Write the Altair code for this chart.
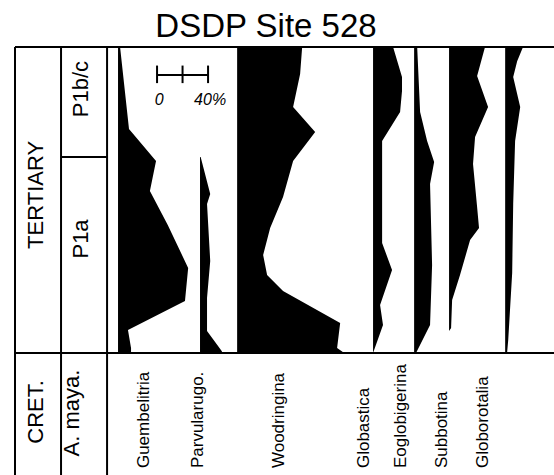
import altair as alt
import pandas as pd

TITLE = "DSDP Site 528"

# ---- data: height above K/T boundary (cm-like units) and relative abundance (%) ----
GUEM_H = [150, 109.8, 94.1, 79.4, 62.7, 41.7, 25.5, 11.3, 2.5, 0]
GUEM_P = [1.6, 8.6, 29.8, 25.0, 39.0, 55.0, 52.5, 7.8, 10.2, 10.2]

PARV_H = [96.1, 78.0, 73.0, 45.1, 27.0, 10.8, 1.0, 0]
PARV_P = [0.5, 8.0, 5.5, 8.0, 5.5, 5.5, 17.0, 17.5]

WOOD_H = [150, 136.8, 120.6, 108.3, 94.1, 76.5, 61.3, 48.0, 38.2, 30.4, 14.7, 2.5, 0]
WOOD_P = [51, 49.4, 43.9, 61.2, 43.9, 36, 25.9, 20.4, 23.5, 36, 80.8, 78.4, 84]

GLOBA_H = [150, 135.3, 128.4, 118.1, 103.9, 53.9, 40.7, 23.5, 13.7, 0]
GLOBA_P = [15.7, 22.7, 22.7, 21.2, 7.1, 7.1, 14.9, 5.5, 7.8, 0]

EOGL_H = [150, 118.1, 103.9, 93.6, 82.8, 43.1, 13.7, 0]
EOGL_P = [2.4, 4.7, 10.2, 15.7, 12.5, 14.1, 12.5, 1.5]

SUBB_H = [150, 135.8, 120.6, 105.9, 92.6, 71.6, 61.3, 55.4, 38.2, 26.0, 12.3, 10.8]
SUBB_P = [28.2, 22.0, 30.6, 20.4, 18.8, 22.0, 23.5, 16.5, 8.6, 2.4, 1.6, 0]

GROT_H = [150, 143.0, 135.3, 120.6, 103.9, 73.0, 39.2, 6.4, 0]
GROT_P = [14.0, 9.4, 6.3, 11.8, 7.8, 6.3, 5.5, 2.4, 1.5]

SPECIES = ["Guembelitria", "Parvularugo.", "Woodringina", "Globastica",
           "Eoglobigerina", "Subbotina", "Globorotalia"]
SERIES = [(GUEM_H, GUEM_P), (PARV_H, PARV_P), (WOOD_H, WOOD_P), (GLOBA_H, GLOBA_P),
          (EOGL_H, EOGL_P), (SUBB_H, SUBB_P), (GROT_H, GROT_P)]

# zones
STAGES = ["TERTIARY", "CRET."]
ZONES = ["P1b/c", "P1a", "A. maya."]
KT_BOUNDARY = 0
P1A_TOP = 96.1
SCALE_LEN = 40  # scale bar length in %

# ---- layout (in axis units) ----
COLUMN_BASE = [8.6, 72.9, 102.0, 208.6, 240.8, 268.2, 312.2]
LABEL_X = [29.0, 71.4, 134.9, 201.6, 230.6, 262.7, 294.9]
LABEL_Y = -56.4
X_DOMAIN = [-72.2, 350.5]
Y_DOMAIN = [-59.8, 150]
STAGE_COL_X = -72.2
ZONE_COL_X = -36.1
PLOT_X = 0
STAGE_LABEL = {"x": [-50.2, -50.2], "y": [77.5, -28.9]}
ZONE_LABEL = {"x": [-14.9, -14.9, -22.0], "y": [129.4, 55.9, -29.4]}
SCALE_X0 = 39.2
SCALE_Y = 136.3
SCALE_TICK = (132.3, 140.9)
SCALE_TXT_Y = 121.6

FONT = "Liberation Sans"

xs = alt.Scale(domain=X_DOMAIN, nice=False, zero=False)
ys = alt.Scale(domain=Y_DOMAIN, nice=False, zero=False)

rows = []
for name, base, (hs, ps) in zip(SPECIES, COLUMN_BASE, SERIES):
    for h, p in zip(hs, ps):
        rows.append({"species": name, "height": h, "pct": p, "base": base})
df = pd.DataFrame(rows)

areas = alt.Chart(df).transform_calculate(
    right="datum.base + datum.pct"
).mark_area(orient="horizontal", color="black", interpolate="linear").encode(
    x=alt.X("right:Q", scale=xs, axis=None, stack=None),
    x2="base:Q",
    y=alt.Y("height:Q", scale=ys, axis=None),
    detail="species:N",
)

top, bot = Y_DOMAIN[1], Y_DOMAIN[0]
right = X_DOMAIN[1]
frame = pd.DataFrame([
    {"x": STAGE_COL_X, "x2": STAGE_COL_X, "y": top, "y2": bot},
    {"x": ZONE_COL_X, "x2": ZONE_COL_X, "y": top, "y2": bot},
    {"x": PLOT_X, "x2": PLOT_X, "y": top, "y2": bot},
    {"x": STAGE_COL_X, "x2": right, "y": top, "y2": top},
    {"x": STAGE_COL_X, "x2": right, "y": KT_BOUNDARY, "y2": KT_BOUNDARY},
    {"x": ZONE_COL_X, "x2": PLOT_X, "y": P1A_TOP, "y2": P1A_TOP},
    # scale bar
    {"x": SCALE_X0, "x2": SCALE_X0 + SCALE_LEN, "y": SCALE_Y, "y2": SCALE_Y},
    {"x": SCALE_X0, "x2": SCALE_X0, "y": SCALE_TICK[0], "y2": SCALE_TICK[1]},
    {"x": SCALE_X0 + SCALE_LEN / 2, "x2": SCALE_X0 + SCALE_LEN / 2, "y": SCALE_TICK[0], "y2": SCALE_TICK[1]},
    {"x": SCALE_X0 + SCALE_LEN, "x2": SCALE_X0 + SCALE_LEN, "y": SCALE_TICK[0], "y2": SCALE_TICK[1]},
])
rules = alt.Chart(frame).mark_rule(color="black", strokeWidth=2).encode(
    x=alt.X("x:Q", scale=xs, axis=None), x2="x2:Q",
    y=alt.Y("y:Q", scale=ys, axis=None), y2="y2:Q",
)

strat_df = pd.DataFrame({"t": STAGES + ZONES,
                         "x": STAGE_LABEL["x"] + ZONE_LABEL["x"],
                         "y": STAGE_LABEL["y"] + ZONE_LABEL["y"]})
strat_txt = alt.Chart(strat_df).mark_text(
    angle=270, align="center", baseline="alphabetic", fontSize=22, font=FONT, color="black"
).encode(x=alt.X("x:Q", scale=xs, axis=None), y=alt.Y("y:Q", scale=ys, axis=None), text="t:N")

sp_df = pd.DataFrame({"t": SPECIES, "x": LABEL_X, "y": [LABEL_Y] * len(SPECIES)})
sp_txt = alt.Chart(sp_df).mark_text(
    angle=270, align="left", baseline="middle", fontSize=17, font=FONT, color="black"
).encode(x=alt.X("x:Q", scale=xs, axis=None), y=alt.Y("y:Q", scale=ys, axis=None), text="t:N")

sc_df = pd.DataFrame({"t": ["0", f"{SCALE_LEN}%"],
                      "x": [SCALE_X0 + 1.6, SCALE_X0 + SCALE_LEN + 1.6],
                      "y": [SCALE_TXT_Y, SCALE_TXT_Y]})
sc_txt = alt.Chart(sc_df).mark_text(
    align="center", baseline="alphabetic", fontSize=16, font=FONT, fontStyle="italic", color="black"
).encode(x=alt.X("x:Q", scale=xs, axis=None), y=alt.Y("y:Q", scale=ys, axis=None), text="t:N")

title = alt.Chart(pd.DataFrame({"t": [TITLE]})).mark_text(
    align="center", baseline="alphabetic", fontSize=33, font=FONT, color="black"
).encode(x=alt.value(251), y=alt.value(-10), text="t:N")

chart = alt.layer(areas, rules, strat_txt, sp_txt, sc_txt, title).properties(
    width=539, height=428,
    autosize=alt.AutoSizeParams(type="none"),
    padding={"left": 15, "top": 47, "right": 0, "bottom": 0},
).configure_view(stroke=None)

chart.save("out.html", embed_options={"renderer": "svg", "actions": False})
